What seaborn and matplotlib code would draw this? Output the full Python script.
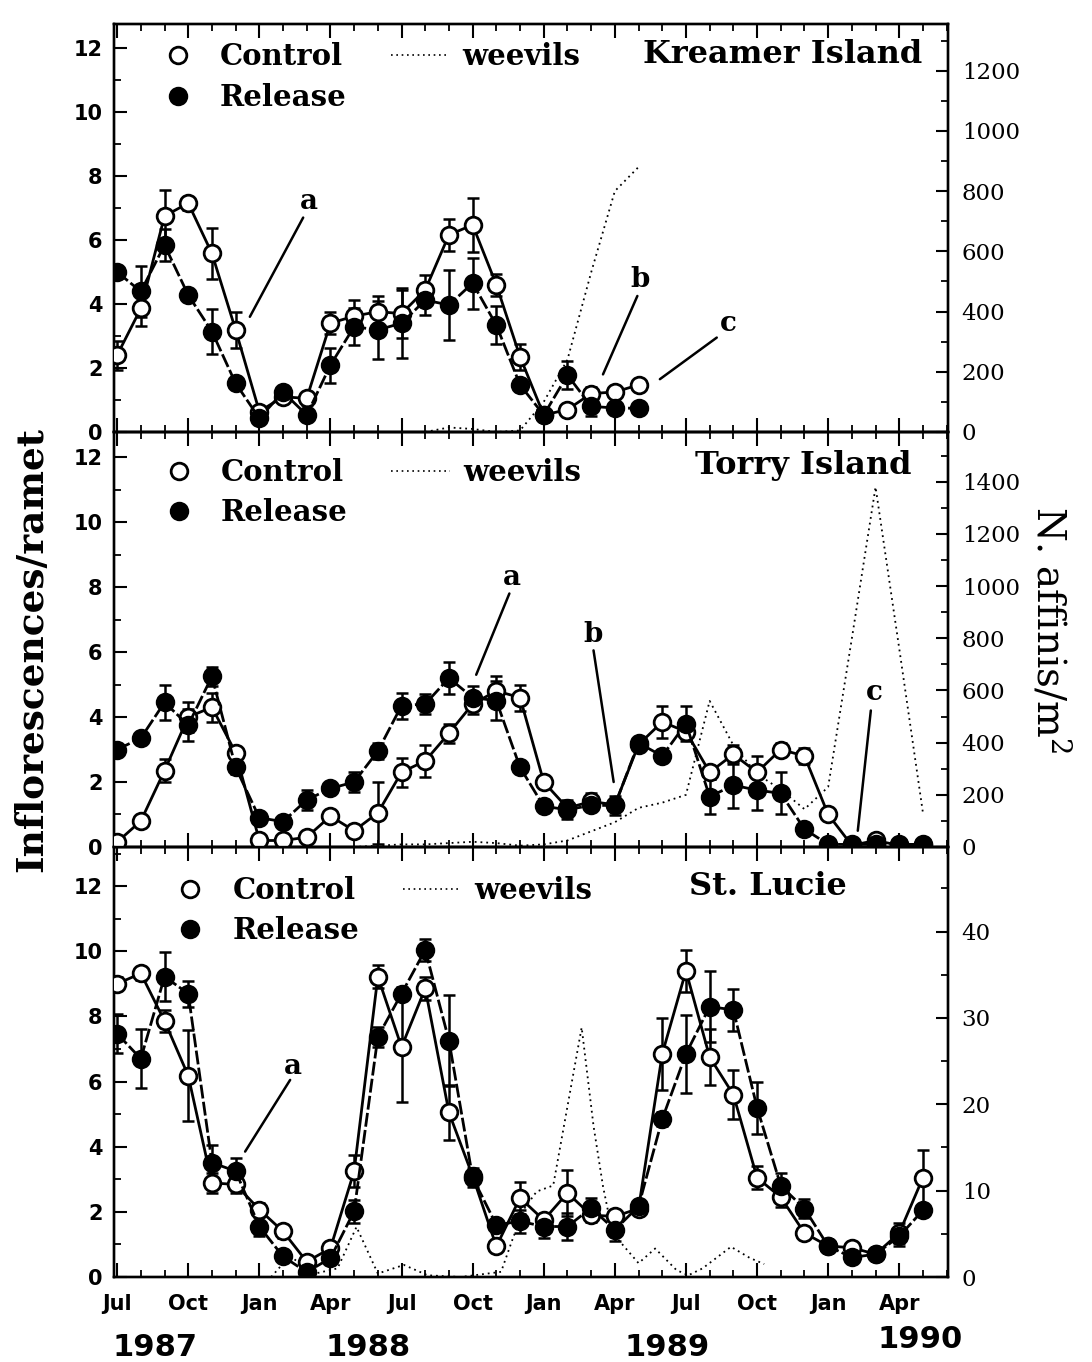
import matplotlib
matplotlib.use("Agg")
import matplotlib.pyplot as plt
import matplotlib.transforms as mtransforms
from matplotlib.lines import Line2D
from matplotlib.ticker import MultipleLocator
import numpy as np
import pandas as pd
import seaborn as sns

# ---------------- data (x = months since Jul 1987) ----------------
kre_months = list(range(23))
kre_ctrl = [2.4, 3.86, 6.75, 7.15, 5.58, 3.19, 0.64, 1.1, 1.05, 3.4, 3.62, 3.76, 3.7,
            4.44, 6.16, 6.47, 4.6, 2.35, 0.53, 0.7, 1.2, 1.25, 1.47]
kre_ctrl_err = [0.45, 0.55, 0.8, 0.2, 0.8, 0.55, 0.15, 0.15, 0.2, 0.35, 0.5, 0.5, 0.75,
                0.45, 0.5, 0.85, 0.35, 0.4, 0.1, 0.15, 0.2, 0.2, 0.15]
kre_rel = [5.0, 4.39, 5.84, 4.28, 3.14, 1.52, 0.43, 1.25, 0.53, 2.09, 3.29, 3.19, 3.4,
           4.12, 3.97, 4.65, 3.34, 1.47, 0.53, 1.78, 0.8, 0.75, 0.74]
kre_rel_err = [0.2, 0.8, 0.5, 0.15, 0.7, 0.15, 0.1, 0.15, 0.1, 0.55, 0.57, 0.9, 1.1,
               0.46, 1.1, 0.8, 0.6, 0.2, 0.1, 0.45, 0.3, 0.15, 0.1]
kre_weev_months = [13, 14, 15, 16, 17, 18, 19, 20, 21, 22]
kre_weev = [0, 15, 10, 0, 5, 100, 240, 530, 800, 880]

tor_months = list(range(35))
tor_ctrl = [0.15, 0.8, 2.35, 4.0, 4.3, 2.9, 0.2, 0.2, 0.3, 0.95, 0.5, 1.05, 2.3, 2.65,
            3.5, 4.4, 4.8, 4.6, 2.0, 1.2, 1.4, 1.3, 3.15, 3.85, 3.55, 2.3, 2.85, 2.3,
            3.0, 2.8, 1.0, 0.05, 0.2, 0.05, 0.05]
tor_ctrl_err = [0.1, 0.1, 0.35, 0.45, 0.45, 0.15, 0.05, 0.05, 0.05, 0.1, 0.1, 0.95, 0.45,
                0.5, 0.3, 0.3, 0.45, 0.4, 0.1, 0.1, 0.25, 0.1, 0.1, 0.5, 0.2, 0.2, 0.3,
                0.5, 0.2, 0.25, 0.1, 0.05, 0.05, 0.05, 0.05]
tor_rel = [3.0, 3.35, 4.45, 3.75, 5.25, 2.45, 0.9, 0.78, 1.45, 1.8, 2.0, 2.95, 4.35, 4.4,
           5.2, 4.6, 4.5, 2.45, 1.25, 1.15, 1.28, 1.28, 3.2, 2.8, 3.8, 1.55, 1.9, 1.75,
           1.65, 0.55, 0.08, 0.08, 0.08, 0.08, 0.08]
tor_rel_err = [0.1, 0.1, 0.55, 0.5, 0.3, 0.2, 0.1, 0.1, 0.3, 0.1, 0.3, 0.25, 0.4, 0.3,
               0.5, 0.35, 0.6, 0.15, 0.15, 0.3, 0.15, 0.3, 0.15, 0.2, 0.55, 0.55, 0.7,
               0.6, 0.65, 0.1, 0.05, 0.05, 0.05, 0.05, 0.05]
tor_weev_months = list(range(9, 35))
tor_weev = [0, 0, 5, 10, 10, 15, 20, 15, 5, 10, 25, 60, 95, 150, 170, 200, 560, 390,
            280, 220, 145, 230, 800, 1380, 760, 130]

stl_months = list(range(35))
stl_ctrl = [9.0, 9.32, 7.86, 6.18, 2.89, 2.84, 2.07, 1.4, 0.47, 0.88, 3.25, 9.22, 7.06,
            8.86, 5.05, 3.1, 0.94, 2.43, 1.75, 2.58, 1.9, 1.86, 2.1, 6.85, 9.4, 6.75,
            5.6, 3.05, 2.45, 1.35, 0.95, 0.9, 0.7, 1.35, 3.05]
stl_ctrl_err = [0.2, 0.2, 0.35, 1.4, 0.3, 0.25, 0.2, 0.2, 0.1, 0.1, 0.5, 0.35, 1.7, 0.35,
                0.85, 0.1, 0.1, 0.5, 0.15, 0.7, 0.2, 0.15, 0.15, 1.1, 0.65, 0.85, 0.75,
                0.35, 0.3, 0.1, 0.1, 0.1, 0.1, 0.3, 0.85]
stl_rel = [7.47, 6.7, 9.22, 8.7, 3.51, 3.25, 1.55, 0.63, 0.15, 0.58, 2.02, 7.37, 8.7,
           10.04, 7.26, 3.05, 1.6, 1.71, 1.55, 1.55, 2.12, 1.45, 2.17, 4.85, 6.85, 8.3,
           8.2, 5.2, 2.8, 2.1, 0.95, 0.6, 0.7, 1.25, 2.05]
stl_rel_err = [0.6, 0.9, 0.75, 0.4, 0.55, 0.4, 0.3, 0.1, 0.1, 0.1, 0.35, 0.3, 0.2, 0.35,
               1.4, 0.3, 0.15, 0.35, 0.35, 0.4, 0.3, 0.35, 0.2, 0.2, 1.2, 1.1, 0.65,
               0.8, 0.4, 0.3, 0.15, 0.15, 0.1, 0.3, 0.1]
stl_weev_months = [6.5, 7.3, 8.2, 9.3, 10.1, 11.0, 12.1, 13.1, 14.5, 16.2, 16.7, 17.2,
                   17.7, 18.4, 19.6, 20.1, 20.5, 20.9, 22.0, 22.7, 23.6, 24.1, 24.7,
                   25.9, 26.7, 27.3]
stl_weev = [0, 2.5, 0.3, 1.0, 5.8, 0.4, 1.4, 0.2, 0, 0.6, 4.5, 8.0, 9.9, 10.6, 28.9,
            17.5, 10.5, 5.1, 1.6, 3.3, 0.8, 0.2, 1.0, 3.5, 2.2, 1.5]

site_names = ["Kreamer Island", "Torry Island", "St. Lucie"]
month_tick_labels = ["Jul", "Oct", "Jan", "Apr"] * 3
year_labels = ["1987", "1988", "1989", "1990"]
legend_labels = ["Control", "Release", "weevils"]

# ---------------- style ----------------
sns.set_theme(style="ticks")
plt.rcParams.update({
    "axes.linewidth": 1.7,
    "xtick.direction": "in",
    "ytick.direction": "in",
    "xtick.major.width": 1.5,
    "xtick.minor.width": 1.3,
    "ytick.major.width": 1.5,
    "ytick.minor.width": 1.3,
    "axes.edgecolor": "black",
    "text.color": "black",
    "axes.labelcolor": "black",
    "xtick.color": "black",
    "ytick.color": "black",
    "mathtext.fontset": "dejavuserif",
})
plt.rcParams["font.family"] = ["DejaVu Sans"]

SERIF = ["DejaVu Serif"]
NARROW = ["Liberation Sans Narrow", "DejaVu Sans"]

fig = plt.figure(figsize=(10.92, 13.62), dpi=100)
fig.patch.set_facecolor("white")
gs = fig.add_gridspec(3, 1, height_ratios=[408, 415, 430], hspace=0,
                      left=0.104, right=0.868, top=0.9824, bottom=0.0624)

panels = [
    dict(m=kre_months, c=kre_ctrl, ce=kre_ctrl_err, r=kre_rel, re=kre_rel_err,
         wm=kre_weev_months, wv=kre_weev, ylim=12.75, rylim=1355, rmaj=200, rmin=100,
         title_xy=(0.969, 0.924), title_ha="right", leg_xy=(0.042, 0.955)),
    dict(m=tor_months, c=tor_ctrl, ce=tor_ctrl_err, r=tor_rel, re=tor_rel_err,
         wm=tor_weev_months, wv=tor_weev, ylim=12.77, rylim=1591, rmaj=200, rmin=100,
         title_xy=(0.957, 0.92), title_ha="right", leg_xy=(0.043, 0.938)),
    dict(m=stl_months, c=stl_ctrl, ce=stl_ctrl_err, r=stl_rel, re=stl_rel_err,
         wm=stl_weev_months, wv=stl_weev, ylim=13.2, rylim=49.8, rmaj=10, rmin=5,
         title_xy=(0.784, 0.907), title_ha="center", leg_xy=(0.057, 0.933)),
]

annotations = [
    [("a", (8.1, 7.2), (7.85, 6.7), (5.6, 3.6)),
     ("b", (22.05, 4.75), (21.95, 4.25), (20.5, 1.8)),
     ("c", (25.8, 3.4), (25.3, 2.95), (22.9, 1.65))],
    [("a", (16.65, 8.3), (16.55, 7.8), (15.15, 5.3)),
     ("b", (20.1, 6.55), (20.1, 6.05), (20.95, 2.0)),
     ("c", (31.95, 4.75), (31.8, 4.2), (31.25, 0.5))],
    [("a", (7.4, 6.45), (7.3, 6.05), (5.4, 3.85))],
]

MS = 12
axes = []
for i, p in enumerate(panels):
    ax = fig.add_subplot(gs[i])
    ax2 = ax.twinx()
    ax.set_zorder(ax2.get_zorder() + 1)
    ax.patch.set_visible(False)

    # weevils (right axis)
    sns.lineplot(x=p["wm"], y=p["wv"], ax=ax2, color="black", linewidth=1.3,
                 linestyle=(0, (1, 2.2)), sort=False, errorbar=None)
    ax2.set_ylim(0, p["rylim"])
    ax2.yaxis.set_major_locator(MultipleLocator(p["rmaj"]))
    ax2.yaxis.set_minor_locator(MultipleLocator(p["rmin"]))
    ax2.tick_params(axis="y", which="major", direction="in", length=9, pad=10,
                    labelsize=16.5)
    ax2.tick_params(axis="y", which="minor", direction="in", length=5)
    for lab in ax2.get_yticklabels():
        lab.set_family(SERIF)
    ax2.set_ylabel("")
    ax2.set_xlabel("")

    # error bars
    ax.errorbar(p["m"], p["c"], yerr=p["ce"], fmt="none", ecolor="black",
                elinewidth=1.8, capsize=4.5, capthick=1.8, zorder=2)
    ax.errorbar(p["m"], p["r"], yerr=p["re"], fmt="none", ecolor="black",
                elinewidth=1.8, capsize=4.5, capthick=1.8, zorder=2)
    # control (open) and release (filled)
    sns.lineplot(x=p["m"], y=p["c"], ax=ax, color="black", linewidth=2.0,
                 marker="o", markersize=MS, mfc="white", mec="black", mew=2.0,
                 errorbar=None, zorder=3)
    sns.lineplot(x=p["m"], y=p["r"], ax=ax, color="black", linewidth=2.0,
                 linestyle=(0, (5, 1.2)), marker="o", markersize=MS, mfc="black",
                 mec="black", mew=2.0, errorbar=None, zorder=4)

    ax.set_xlim(-0.15, 35.05)
    ax.set_ylim(0, p["ylim"])
    ax.yaxis.set_major_locator(MultipleLocator(2))
    ax.yaxis.set_minor_locator(MultipleLocator(1))
    ax.set_xticks(list(range(0, 34, 3)))
    ax.xaxis.set_minor_locator(MultipleLocator(1))
    ax.tick_params(axis="y", which="major", direction="in", length=9, pad=8,
                   labelsize=15)
    ax.tick_params(axis="y", which="minor", direction="in", length=5)
    for lab in ax.get_yticklabels():
        lab.set_fontweight("bold")
    ax.tick_params(axis="x", which="major", direction="in", length=10, top=True,
                   bottom=True, labeltop=False, labelbottom=(i == 2), pad=12,
                   labelsize=15)
    ax.tick_params(axis="x", which="minor", direction="in", length=5, top=True,
                   bottom=True)
    if i == 2:
        ax.set_xticklabels(month_tick_labels, fontweight="bold", family=NARROW)
    ax.set_xlabel("")
    ax.set_ylabel("")

    # legend
    handles = [
        Line2D([], [], marker="o", ls="none", ms=MS, mfc="white", mec="black", mew=2),
        Line2D([], [], marker="o", ls="none", ms=MS, mfc="black", mec="black", mew=2),
        Line2D([], [], color="black", lw=1.2, ls=(0, (1, 2.2))),
    ]
    ax.legend(handles, legend_labels, ncol=2, loc="upper left",
              bbox_to_anchor=p["leg_xy"], frameon=False, borderpad=0,
              borderaxespad=0, handlelength=2.0, handletextpad=0.45,
              columnspacing=1.5, labelspacing=0.4,
              prop=dict(family=SERIF, weight="bold", size=21))

    ax.text(p["title_xy"][0], p["title_xy"][1], site_names[i], transform=ax.transAxes,
            ha=p["title_ha"], va="center", family=SERIF, fontweight="bold",
            fontsize=23)

    for letter, txy, l0, l1 in annotations[i]:
        ax.annotate("", xy=l1, xytext=l0,
                    arrowprops=dict(arrowstyle="-", color="black", lw=1.8,
                                    shrinkA=0, shrinkB=0))
        ax.text(txy[0], txy[1], letter, ha="center", va="center", family=SERIF,
                fontweight="bold", fontsize=20)
    axes.append(ax)

# year labels under the bottom panel
ax3 = axes[2]
trans = mtransforms.blended_transform_factory(ax3.transData, ax3.transAxes)
year_pos = [(1.6, -0.163), (10.6, -0.163), (23.2, -0.163), (33.9, -0.145)]
for (xp, yp), lab in zip(year_pos, year_labels):
    ax3.text(xp, yp, lab, transform=trans, ha="center", va="center", fontsize=22,
             fontweight="bold", family=NARROW)

fig.text(32 / 1092, 1 - 650 / 1362, "Inflorescences/ramet", rotation=90,
         ha="center", va="center", family=SERIF, fontweight="bold", fontsize=27)
fig.text(1050 / 1092, 1 - 630 / 1362, "N. affinis/m$^{2}$", rotation=-90,
         ha="center", va="center", family=SERIF, fontsize=28)

fig.savefig("out.png", dpi=100, facecolor="white")
